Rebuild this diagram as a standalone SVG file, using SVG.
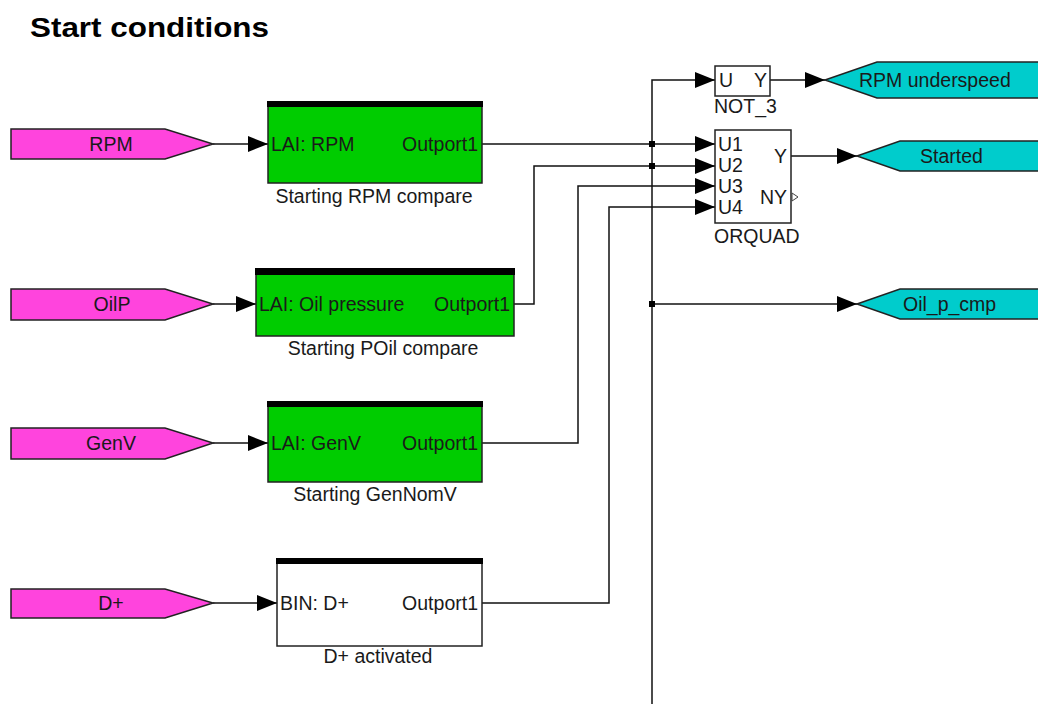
<svg xmlns="http://www.w3.org/2000/svg" width="1038" height="704" viewBox="0 0 1038 704">
<style>
text{font-family:"Liberation Sans",Arial,sans-serif;font-size:19.5px;fill:#1a1a1a}
.title{font-size:28px;font-weight:bold;fill:#000}
.in{fill:#ff44dd;stroke:#222;stroke-width:1.5}
.out{fill:#00cccc;stroke:#222;stroke-width:1.5}
.green{fill:#00cc00;stroke:#222;stroke-width:1.5}
.white{fill:#fff;stroke:#222;stroke-width:1.5}
.bar{fill:#000}
.w{stroke:#111;stroke-width:1.5;fill:none}
.dot{fill:#000}
.c{text-anchor:middle}
.e{text-anchor:end}
</style>
<defs>
<marker id="arr" markerUnits="userSpaceOnUse" markerWidth="20" markerHeight="18" refX="20" refY="9" orient="auto">
<path d="M0,1 L20,9 L0,17 z" fill="#000"/>
</marker>
</defs>
<rect width="1038" height="704" fill="#fff"/>
<text class="title" x="30" y="37" textLength="239" lengthAdjust="spacingAndGlyphs">Start conditions</text>

<g id="connectors">
<path class="w" d="M213,144 H268" marker-end="url(#arr)"/>
<path class="w" d="M213,304 H256" marker-end="url(#arr)"/>
<path class="w" d="M213,443 H268" marker-end="url(#arr)"/>
<path class="w" d="M213,603 H277" marker-end="url(#arr)"/>
<path class="w" d="M482,144 H715" marker-end="url(#arr)"/>
<path class="w" d="M514,304 H534 V166 H715" marker-end="url(#arr)"/>
<path class="w" d="M482,443 H578 V186 H715" marker-end="url(#arr)"/>
<path class="w" d="M482,603 H609 V207 H715" marker-end="url(#arr)"/>
<path class="w" d="M652,704 V80 H715" marker-end="url(#arr)"/>
<path class="w" d="M652,304 H857" marker-end="url(#arr)"/>
<path class="w" d="M770,80 H825" marker-end="url(#arr)"/>
<path class="w" d="M791,156 H857" marker-end="url(#arr)"/>
<rect class="dot" x="649" y="141" width="6" height="6"/>
<rect class="dot" x="649" y="163" width="6" height="6"/>
<rect class="dot" x="649" y="301" width="6" height="6"/>
</g>

<g id="in-rpm">
<polygon class="in" points="11,129 165,129 213,144 165,159 11,159"/>
<text class="c" x="111" y="151">RPM</text>
</g>
<g id="in-oilp">
<polygon class="in" points="11,289 165,289 213,304 165,320 11,320"/>
<text class="c" x="112" y="311">OilP</text>
</g>
<g id="in-genv">
<polygon class="in" points="11,428 165,428 213,443 165,459 11,459"/>
<text class="c" x="111" y="450">GenV</text>
</g>
<g id="in-dplus">
<polygon class="in" points="11,589 165,589 213,603 165,618 11,618"/>
<text class="c" x="111" y="610">D+</text>
</g>

<g id="blk-rpm">
<rect class="green" x="268" y="102" width="214" height="81"/>
<rect class="bar" x="267" y="101" width="216" height="6"/>
<text x="271" y="151">LAI: RPM</text>
<text class="e" x="478" y="151">Outport1</text>
<text class="c" x="374" y="203">Starting RPM compare</text>
</g>
<g id="blk-oil">
<rect class="green" x="256" y="269" width="258" height="67"/>
<rect class="bar" x="255" y="268" width="260" height="7"/>
<text x="259" y="311">LAI: Oil pressure</text>
<text class="e" x="510" y="311">Outport1</text>
<text class="c" x="383" y="355">Starting POil compare</text>
</g>
<g id="blk-genv">
<rect class="green" x="268" y="402" width="214" height="80"/>
<rect class="bar" x="267" y="401" width="216" height="6"/>
<text x="271" y="450">LAI: GenV</text>
<text class="e" x="478" y="450">Outport1</text>
<text class="c" x="375" y="501">Starting GenNomV</text>
</g>
<g id="blk-dplus">
<rect class="white" x="277" y="559" width="205" height="87"/>
<rect class="bar" x="276" y="558" width="207" height="6"/>
<text x="280" y="610">BIN: D+</text>
<text class="e" x="478" y="610">Outport1</text>
<text class="c" x="378" y="663">D+ activated</text>
</g>

<g id="not3">
<rect class="white" x="715" y="66" width="55" height="30"/>
<text x="719" y="87">U</text>
<text class="e" x="767" y="87">Y</text>
<text x="714" y="113">NOT_3</text>
</g>
<g id="orquad">
<rect class="white" x="715" y="130" width="76" height="93"/>
<text x="718" y="151">U1</text>
<text x="718" y="172">U2</text>
<text x="718" y="193">U3</text>
<text x="718" y="214">U4</text>
<text class="e" x="787" y="163">Y</text>
<text class="e" x="787" y="204">NY</text>
<polygon points="792,193 798,197 792,201" fill="#fff" stroke="#444" stroke-width="1"/>
<text x="714" y="243">ORQUAD</text>
</g>

<g id="out-underspeed">
<polygon class="out" points="825,80 877,62 1040,62 1040,98 877,98"/>
<text x="859" y="87">RPM underspeed</text>
</g>
<g id="out-started">
<polygon class="out" points="857,156 900,141 1040,141 1040,171 900,171"/>
<text x="920" y="163">Started</text>
</g>
<g id="out-oil">
<polygon class="out" points="857,304 900,289 1040,289 1040,319 900,319"/>
<text x="903" y="311">Oil_p_cmp</text>
</g>
</svg>
